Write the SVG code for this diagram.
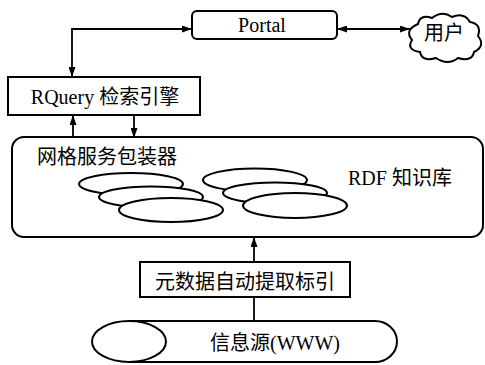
<svg xmlns="http://www.w3.org/2000/svg" width="485" height="365" viewBox="0 0 485 365">
<style>
.b{fill:#fff;stroke:#000;stroke-width:2}
.e{fill:#fff;stroke:#000;stroke-width:2}
.c{fill:none;stroke:#000;stroke-width:1.8}
text{font-family:"Liberation Serif","Noto Sans CJK SC",serif;font-size:20px;fill:#000}
</style>
<defs>
<marker id="a" viewBox="0 0 10 7" refX="10" refY="3.5" markerWidth="10" markerHeight="7" markerUnits="userSpaceOnUse" orient="auto-start-reverse">
<path d="M0,0 L10,3.5 L0,7 z" fill="#000"/>
</marker>
</defs>
<rect width="485" height="365" fill="#fff"/>
<g id="connectors">
<path class="c" d="M192,29 H72 V77" marker-start="url(#a)" marker-end="url(#a)"/>
<path class="c" d="M337,29 H410" marker-start="url(#a)" marker-end="url(#a)"/>
<path class="c" d="M73,138 V115" marker-end="url(#a)"/>
<path class="c" d="M134,115 V138" marker-end="url(#a)"/>
<path class="c" d="M254,262 V237" marker-end="url(#a)"/>
<path class="c" d="M254,322 V297"/>
</g>
<g id="portal">
<rect class="b" x="192" y="11" width="145" height="28" rx="5"/>
<text x="262" y="32" text-anchor="middle">Portal</text>
</g>
<g id="user">
<path class="b" d="M418,24 Q420,14 432,18 Q442,10 452,17 Q464,12 470,22 Q482,24 478,36 Q486,46 474,52 Q472,62 458,58 Q448,66 436,58 Q422,62 420,52 Q406,50 412,40 Q404,30 418,24 Z"/>
<text x="444" y="40" text-anchor="middle">用户</text>
</g>
<g id="rquery">
<rect class="b" x="8" y="77" width="192" height="38"/>
<text x="105" y="104" text-anchor="middle">RQuery 检索引擎</text>
</g>
<g id="rdf">
<rect class="b" x="12" y="137" width="471" height="100" rx="12"/>
<text x="37" y="164">网格服务包装器</text>
<text x="348" y="185">RDF 知识库</text>
<ellipse class="e" cx="131" cy="184" rx="52" ry="11"/>
<ellipse class="e" cx="151" cy="197" rx="52" ry="10.5"/>
<ellipse class="e" cx="171" cy="210" rx="52" ry="12"/>
<ellipse class="e" cx="255" cy="180" rx="52" ry="11.5"/>
<ellipse class="e" cx="275" cy="193" rx="52" ry="10.5"/>
<ellipse class="e" cx="295" cy="205.5" rx="52" ry="12.5"/>
</g>
<g id="metadata">
<rect class="b" x="140" y="262" width="210" height="35"/>
<text x="245" y="289" text-anchor="middle">元数据自动提取标引</text>
</g>
<g id="source">
<path class="b" d="M129,321 H375 A22,20.5 0 0 1 375,362 H129 Z"/>
<ellipse class="e" cx="129" cy="341.5" rx="37" ry="20.5"/>
<text x="275" y="350" text-anchor="middle">信息源(WWW)</text>
</g>
</svg>
